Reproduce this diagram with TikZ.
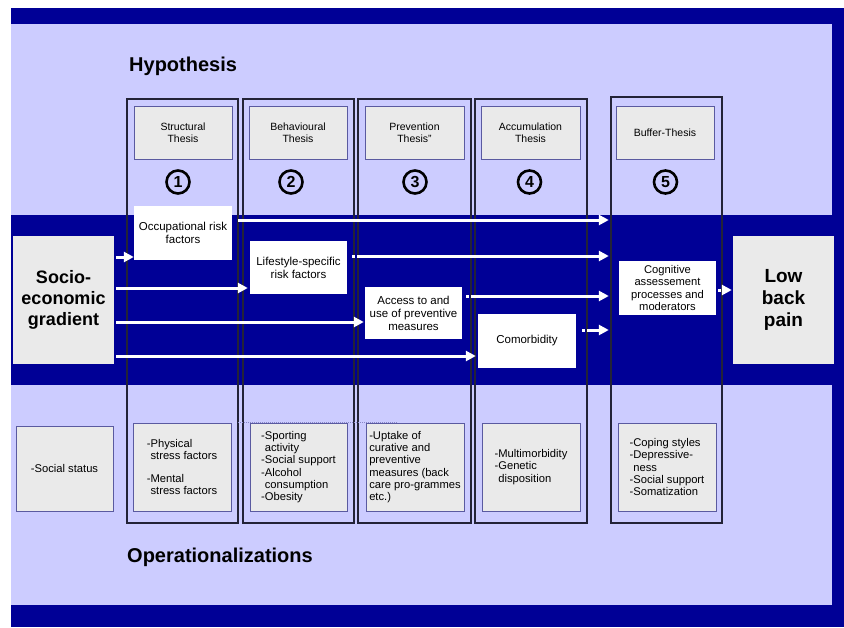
\documentclass[tikz,border=0pt]{standalone}
\usepackage{fontspec}
\setmainfont{Liberation Sans}
\usetikzlibrary{arrows.meta,calc}
\definecolor{navy}{RGB}{0,0,150}
\definecolor{lav}{RGB}{204,204,255}
\definecolor{boxgrey}{RGB}{234,234,234}
\definecolor{boxline}{RGB}{90,90,160}
\definecolor{frameline}{RGB}{35,35,55}
\begin{document}
\begin{tikzpicture}[x=1pt,y=-1pt,
 framebox/.style={rectangle,inner sep=0pt,minimum width=111pt,minimum height=424pt},
 head/.style={draw=boxline,line width=1pt,fill=boxgrey,minimum width=98pt,minimum height=53pt,inner sep=1pt,align=center,font=\fontsize{10.5}{11.5}\selectfont},
 num/.style={circle,draw=black,line width=2.6pt,minimum size=23pt,inner sep=0pt,font=\fontsize{16}{16}\selectfont\bfseries},
 wbox/.style={fill=white,minimum width=97pt,minimum height=53pt,inner sep=1pt,align=center,font=\fontsize{11.5}{13}\selectfont},
 big/.style={fill=boxgrey,minimum width=101pt,minimum height=128pt,inner sep=1pt,align=center,font=\fontsize{18}{21}\selectfont\bfseries},
 opbox/.style={draw=boxline,line width=1pt,fill=boxgrey,minimum width=98pt,minimum height=88pt,inner sep=1pt,align=left,font=\fontsize{11.2}{12.3}\selectfont},
 arr/.style={white,line width=3pt,-{Triangle[length=10pt,width=10pt]}},
 darr/.style={arr,dash pattern=on 3pt off 2pt on 600pt},
 title/.style={font=\fontsize{20}{24}\selectfont\bfseries,anchor=west,inner sep=0pt}
]
\useasboundingbox (0,0) rectangle (844,627);
% background
\fill[white] (0,0) rectangle (844,627);
\fill[navy] (11,8) rectangle (844,627);
\fill[lav] (11,24) rectangle (832,605);
\fill[navy] (11,215) rectangle (844,385);

% titles
\node[title] (hyp) at (129,66) {Hypothesis};
\node[title] (ops) at (127,557) {Operationalizations};

% column frames
\node[framebox] (f1) at (182.5,311) {};
\node[framebox] (f2) at (298.5,311) {};
\node[framebox,minimum width=113pt] (f3) at (414.5,311) {};
\node[framebox,minimum width=112pt] (f4) at (531,311) {};
\node[framebox,minimum height=426pt] (f5) at (666.5,310) {};
\foreach \f in {f1,f2,f3,f4,f5}
  \draw[frameline,line width=1.5pt] (\f.north west) rectangle (\f.south east);

% header boxes
\node[head] (h1) at (183,132.5) {Structural\\Thesis};
\node[head] (h2) at (298,132.5) {Behavioural\\Thesis};
\node[head,minimum width=99pt] (h3) at (414.5,132.5) {Prevention\\Thesis''};
\node[head,minimum width=99pt] (h4) at (530.5,132.5) {Accumulation\\Thesis};
\node[head] (h5) at (665,132.5) {Buffer-Thesis};

% circled numbers
\node[num] (n1) at (178,182) {1};
\node[num] (n2) at (291,182) {2};
\node[num] (n3) at (415,182) {3};
\node[num] (n4) at (529.5,182) {4};
\node[num] (n5) at (665.5,182) {5};

% band boxes
\node[big] (socio) at (63.5,300) {Socio-\\economic\\gradient};
\node[big,font=\fontsize{19}{22}\selectfont\bfseries] (lbp) at (783.5,300) {Low\\back\\pain};
\node[wbox,minimum width=98pt,minimum height=54pt] (occ) at (183,233) {Occupational risk\\factors};
\node[wbox] (life) at (298.5,267.5) {Lifestyle-specific\\risk factors};
\node[wbox,minimum height=52pt] (acc) at (413.5,313) {Access to and\\use of preventive\\measures};
\node[wbox,minimum width=98pt,minimum height=54pt] (com) at (527,341) {Comorbidity};
\node[wbox,minimum height=54pt,font=\fontsize{11.2}{12.3}\selectfont] (cog) at (667.5,288) {Cognitive\\assessement\\processes and\\moderators};

% bottom boxes
\node[opbox,minimum width=97pt,minimum height=85pt] (soc) at (64.5,468.5) {-Social status};
\node[opbox] (b1) at (182,467) {-Physical\\\hphantom{-}stress factors\\[11pt]-Mental\\\hphantom{-}stress factors};
\node[opbox,minimum width=97pt] (b2) at (298.5,467) {-Sporting\\\hphantom{-}activity\\-Social support\\-Alcohol\\\hphantom{-}consumption\\-Obesity};
\node[opbox] (b3) at (415,467) {-Uptake of\\curative and\\preventive\\measures (back\\care pro-grammes\\etc.)};
\node[opbox] (b4) at (531,467) {-Multimorbidity\\-Genetic\\\hphantom{-}disposition};
\node[opbox] (b5) at (667,467) {-Coping styles\\-Depressive-\\\hphantom{-}ness\\-Social support\\-Somatization};

% faint dotted trace
\draw[boxline!60!lav,densely dotted,line width=1pt] (f1.east |- b2.north) -- ($(b3.north west)+(32,0)$);

% arrows from socio-economic gradient
\draw[arr,shorten <=2pt] (socio.east |- 0,257) -- (occ.west |- 0,257);
\draw[arr,shorten <=2pt,shorten >=2pt] (socio.east |- 0,288) -- (life.west |- 0,288);
\draw[arr,shorten <=2pt,shorten >=1pt] (socio.east |- 0,322) -- (acc.west |- 0,322);
\draw[arr,shorten <=2pt,shorten >=2pt] (socio.east |- 0,356) -- (com.west |- 0,356);
% arrows to buffer column
\draw[arr,shorten <=6pt,shorten >=2pt] (occ.east |- 0,220) -- (f5.west |- 0,220);
\draw[darr,shorten <=5pt,shorten >=2pt] (life.east |- 0,256) -- (f5.west |- 0,256);
\draw[darr,shorten <=4pt,shorten >=2pt] (acc.east |- 0,296) -- (f5.west |- 0,296);
\draw[darr,shorten <=6pt,shorten >=2pt] (com.east |- 0,330) -- (f5.west |- 0,330);
\draw[darr,shorten <=2pt,shorten >=1pt] (cog.east |- 0,290) -- (lbp.west |- 0,290);
\end{tikzpicture}
\end{document}
